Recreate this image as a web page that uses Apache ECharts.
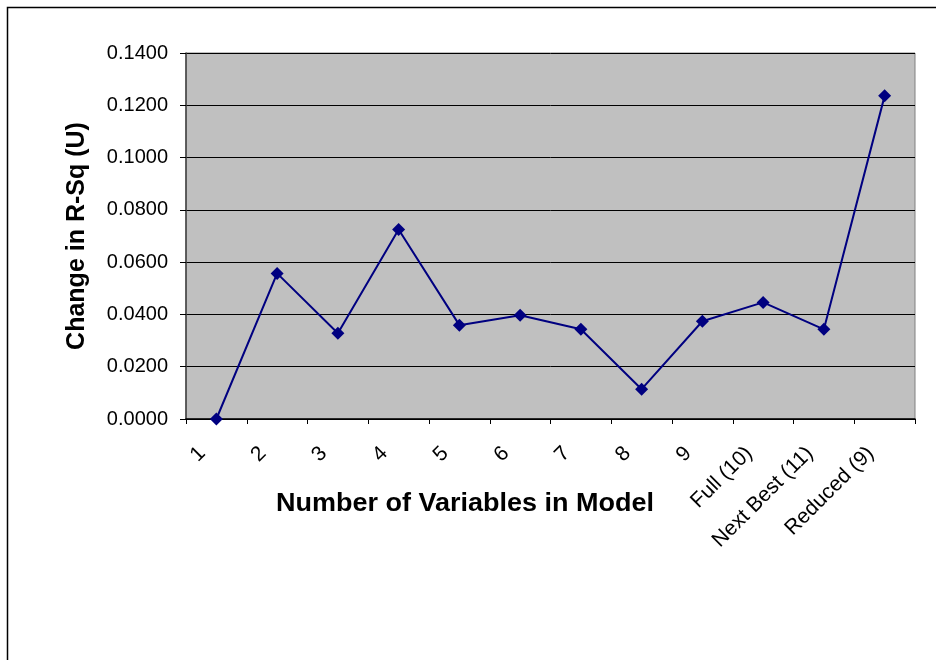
<!DOCTYPE html>
<html>
<head>
<meta charset="utf-8">
<script src="https://cdn.jsdelivr.net/npm/echarts@6/dist/echarts.min.js"></script>
<style>
  html, body { margin: 0; padding: 0; background: #fff; }
  #main { width: 936px; height: 660px; }
</style>
</head>
<body>
<div id="main"></div>
<script>
var categories = ['1', '2', '3', '4', '5', '6', '7', '8', '9', 'Full (10)', 'Next Best (11)', 'Reduced (9)'];
var changeRSq = [0.0000, 0.0557, 0.0328, 0.0725, 0.0359, 0.0397, 0.0343, 0.0114, 0.0374, 0.0446, 0.0343, 0.1236];
var yTicks = { min: 0, max: 0.14, interval: 0.02 };

var chart = echarts.init(document.getElementById('main'));
var font = '"Liberation Sans", Arial, sans-serif';

var option = {
    animation: false,
    backgroundColor: '#fff',
    textStyle: { fontFamily: font },
    graphic: [{
        type: 'rect',
        shape: { x: 7.5, y: 7.5, width: 960, height: 700 },
        style: { fill: 'none', stroke: '#000', lineWidth: 1.5 },
        silent: true
    }, {
        // x axis title, slightly stretched like the original
        type: 'text',
        x: 276,
        y: 504,
        scaleX: 1.08,
        silent: true,
        style: {
            text: 'Number of Variables in Model',
            font: 'bold 25px ' + font,
            fill: '#000',
            verticalAlign: 'middle'
        }
    }],
    grid: {
        left: 186,
        top: 53,
        right: 21,
        bottom: 241,
        show: true,
        backgroundColor: '#c0c0c0',
        borderColor: '#808080',
        borderWidth: 1
    },
    xAxis: {
        type: 'category',
        data: categories,
        boundaryGap: true,
        axisLine: { lineStyle: { color: '#000', width: 1.5 } },
        axisTick: { show: true, length: 5, alignWithLabel: false, lineStyle: { color: '#000' } },
        axisLabel: {
            rotate: 45,
            interval: 0,
            margin: 17,
            padding: [0, 20, 0, 0],
            fontSize: 21,
            color: '#000',
            fontFamily: font
        },
        splitLine: { show: false }
    },
    yAxis: {
        type: 'value',
        min: yTicks.min,
        max: yTicks.max,
        interval: yTicks.interval,
        name: 'Change in R-Sq (U)',
        nameLocation: 'middle',
        nameRotate: 90,
        nameGap: 96,
        nameTextStyle: { fontSize: 25, fontWeight: 'bold', color: '#000', fontFamily: font },
        axisLine: { show: true, lineStyle: { color: '#404040', width: 1.5 } },
        axisTick: { show: true, length: 6, lineStyle: { color: '#000' } },
        axisLabel: {
            margin: 18,
            fontSize: 20,
            color: '#000',
            fontFamily: font,
            formatter: function (v) { return v.toFixed(4); }
        },
        splitLine: { show: true, lineStyle: { color: '#000', width: 1 } }
    },
    series: [{
        type: 'line',
        data: changeRSq,
        symbol: 'diamond',
        symbolSize: 13,
        lineStyle: { color: '#000080', width: 2 },
        itemStyle: { color: '#000080' }
    }]
};
chart.setOption(option);
</script>
</body>
</html>
